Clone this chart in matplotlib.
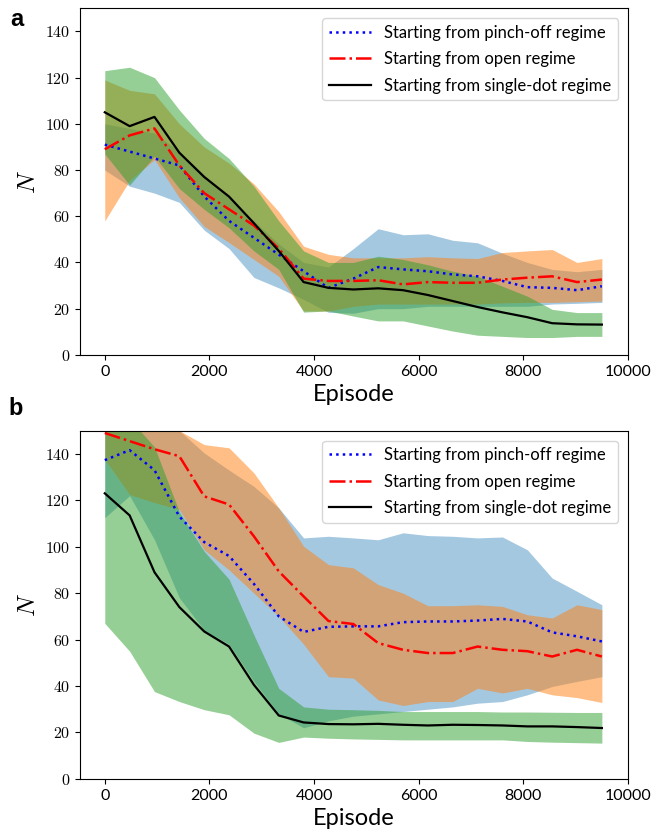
import numpy as np
import matplotlib.pyplot as plt
from matplotlib.ticker import FuncFormatter

plt.rcParams['mathtext.fontset'] = 'cm'
plt.rcParams['font.family'] = ['Lato', 'DejaVu Sans']

# episodes
episodes = np.arange(0, 9501, 475)

labels = ['Starting from pinch-off regime',
          'Starting from open regime',
          'Starting from single-dot regime']

# panel a: means
a_pinch = [91, 88, 85, 82, 68.6, 58, 50.7, 43.4, 36.2, 29, 33, 38, 37, 36.2, 34.8, 34, 32, 29.3, 29, 28, 29.7]
a_open = [89, 95, 98, 82, 70, 63, 56, 46, 33, 32, 32, 32.3, 30.5, 31.5, 31.2, 31.2, 32.6, 33.4, 34, 31.5, 32.6]
a_single = [105, 99, 103, 87.5, 77, 68.5, 57, 45, 31.5, 29, 28.3, 28.8, 28, 25.9, 23.3, 20.7, 18.4, 16.3, 13.7, 13.2, 13.1]
# panel a: bands
a_pinch_lo = [80, 73, 70, 66, 54, 46, 33.5, 29, 24, 18.4, 18, 20, 20, 21, 21, 21, 21, 21, 22, 22.3, 22.7]
a_pinch_hi = [100, 98, 96, 88, 78, 68, 58, 48, 40, 38, 46, 54.6, 52, 52.4, 49.6, 48.5, 44, 40, 37, 36, 37]
a_open_lo = [58, 75.5, 84.5, 68, 55.6, 48.6, 41.3, 34, 19, 19, 21, 22, 22, 22, 22, 22, 22.5, 22.7, 22.7, 23, 23.3]
a_open_hi = [119, 114.5, 113, 100, 90, 83, 74, 62, 47, 43.5, 42, 42, 42, 42.5, 42, 41.7, 44.3, 45, 45.6, 40, 41.7]
a_single_lo = [87, 73.5, 86, 72, 63, 55, 45, 37, 18.5, 19, 16.8, 14.7, 14.7, 12.5, 10.3, 8.5, 8, 7.5, 7.5, 8, 8]
a_single_hi = [123, 124.5, 120, 106, 93.7, 85, 73, 58, 45, 40, 40, 42.7, 41.3, 39, 36.2, 34, 29.7, 25.4, 19.7, 18.3, 18.3]

# panel b: means
b_pinch = [137.3, 141.6, 133, 113, 102, 96, 84, 70, 63.3, 65.5, 65.7, 65.7, 67.5, 67.8, 67.8, 68.2, 68.9, 67.8, 63.1, 61.4, 59.2]
b_open = [149, 145.5, 142, 139, 121.7, 118.2, 104.5, 89.4, 78.6, 68, 66.7, 58.5, 55.6, 54.2, 54.2, 57, 55.6, 55, 52.7, 55.6, 52.7]
b_single = [123, 113.5, 89, 74, 63.5, 57, 40.5, 27.3, 24.3, 23.6, 23.5, 23.7, 23.3, 23, 23.3, 23.2, 23, 22.6, 22.6, 22.3, 21.9]
# panel b: bands
b_pinch_lo = [112.5, 122, 103, 78, 64, 58, 42, 28, 22, 25, 27, 28, 29, 30, 31, 32.6, 33.3, 36.2, 39.8, 42, 44]
b_pinch_hi = [162, 161, 156, 150, 140.4, 133, 126, 116.7, 103.8, 104.5, 103.8, 103, 106, 104.8, 104.5, 103.8, 104.2, 98.7, 86.5, 80.8, 75]
b_open_lo = [137.6, 122.5, 119, 116, 98.7, 90, 80, 70, 58, 44, 43.4, 34, 31.6, 33.3, 33.3, 39, 37, 39, 36.2, 35, 32.9]
b_open_hi = [168, 162, 158, 150, 144, 142.6, 131.8, 116.7, 100.2, 92.3, 90.9, 83.7, 80, 74.6, 74.6, 75, 74.3, 70.7, 69.3, 75, 72.9]
b_single_lo = [67, 55, 37.6, 33.3, 29.8, 27.6, 19.7, 15.7, 18, 17.5, 17.2, 17, 16.8, 16.8, 16.8, 16.8, 16.8, 16.1, 15.8, 15.6, 15.4]
b_single_hi = [158, 155, 143, 115, 98, 86, 62, 39, 31, 30, 29.8, 29.5, 29, 29, 29, 29, 28.8, 28.8, 28.7, 28.6, 28.6]

fig = plt.figure(figsize=(6.66, 8.33), dpi=100)
ax_a = fig.add_axes([0.120, 0.574, 0.823, 0.416])
ax_b = fig.add_axes([0.120, 0.065, 0.823, 0.418])


def draw(ax, means, los, his):
    for lo, hi, c, al in zip(los, his, ['C0', 'C1', 'C2'], [0.4, 0.5, 0.5]):
        ax.fill_between(episodes, lo, hi, color=c, alpha=al, linewidth=0)
    ax.plot(episodes, means[0], ':', color='blue', lw=1.8, label=labels[0])
    ax.plot(episodes, means[1], '-.', color='red', lw=1.8, label=labels[1])
    ax.plot(episodes, means[2], '-', color='black', lw=1.6, label=labels[2])
    ax.set_xlim(-475, 10000)
    ax.set_ylim(0, 150)
    ax.set_xticks([0, 2000, 4000, 6000, 8000, 10000])
    ax.set_yticks([0, 20, 40, 60, 80, 100, 120, 140])
    ax.yaxis.set_major_formatter(FuncFormatter(lambda v, p: r'$%d$' % v))
    ax.tick_params(labelsize=11.5)
    ax.set_xlabel('Episode', fontsize=17, labelpad=4)
    ax.set_ylabel(r'$N$', fontsize=18)
    ax.legend(loc='upper right', fontsize=12, handlelength=2.5,
              labelspacing=0.62, borderaxespad=0.6)


draw(ax_a, [a_pinch, a_open, a_single],
     [a_pinch_lo, a_open_lo, a_single_lo], [a_pinch_hi, a_open_hi, a_single_hi])
draw(ax_b, [b_pinch, b_open, b_single],
     [b_pinch_lo, b_open_lo, b_single_lo], [b_pinch_hi, b_open_hi, b_single_hi])

fig.text(0.015, 0.99, 'a', fontsize=17, fontweight='bold', va='top', family='Liberation Sans')
fig.text(0.012, 0.523, 'b', fontsize=17, fontweight='bold', va='top', family='Liberation Sans')

plt.savefig('out.png', dpi=100)
